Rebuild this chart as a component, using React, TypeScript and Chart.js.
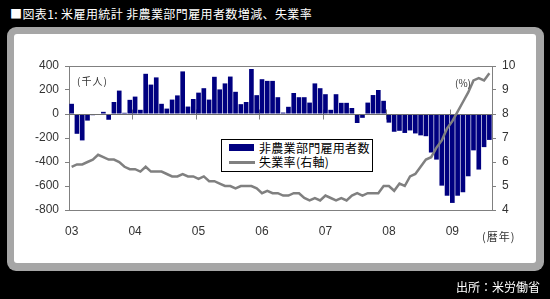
import React, { useEffect, useRef } from 'react';
import { Chart, registerables } from 'chart.js';

Chart.register(...registerables);

// ---- data ----
const years = ['03', '04', '05', '06', '07', '08', '09'];

// Nonfarm payroll change (thousands), monthly
const jobs03 = [85, -165, -220, -55, -10, -5, 18, -48, 100, 195, 10, 118];
const jobs04 = [145, 35, 335, 245, 305, 85, 45, 120, 155, 355, 62, 125];
const jobs05 = [178, 215, 120, 310, 205, 255, 312, 185, 82, 100, 375, 157];
const jobs06 = [290, 276, 276, 140, 12, 60, 175, 140, 140, 95, 255, 215];
const jobs07 = [165, 35, 165, 93, 93, 50, -75, -32, 95, 158, 200, 110];
const jobs08 = [-72, -148, -140, -158, -137, -162, -178, -185, -321, -380, -597, -681];
const jobs09 = [-741, -681, -652, -519, -303, -463, -276, -216];

// Unemployment rate (%), monthly
const unemp03 = [5.8, 5.9, 5.9, 6.0, 6.1, 6.3, 6.2, 6.1, 6.1, 6.0, 5.8, 5.7];
const unemp04 = [5.7, 5.6, 5.8, 5.6, 5.6, 5.6, 5.5, 5.4, 5.4, 5.5, 5.4, 5.4];
const unemp05 = [5.3, 5.4, 5.2, 5.2, 5.1, 5.0, 5.0, 4.9, 5.0, 5.0, 5.0, 4.9];
const unemp06 = [4.7, 4.8, 4.7, 4.7, 4.6, 4.6, 4.7, 4.7, 4.5, 4.4, 4.5, 4.4];
const unemp07 = [4.6, 4.5, 4.4, 4.5, 4.4, 4.6, 4.7, 4.6, 4.7, 4.7, 4.7, 5.0];
const unemp08 = [5.0, 4.8, 5.1, 5.0, 5.4, 5.5, 5.8, 6.1, 6.2, 6.6, 6.9, 7.4];
const unemp09 = [7.7, 8.1, 8.5, 8.9, 9.4, 9.5, 9.4, 9.7];

const jobsByYear = [jobs03, jobs04, jobs05, jobs06, jobs07, jobs08, jobs09];
const unempByYear = [unemp03, unemp04, unemp05, unemp06, unemp07, unemp08, unemp09];

const labels = jobsByYear.flatMap((arr, yi) => arr.map((_, m) => `${years[yi]}/${m + 1}`));
const jobs = jobsByYear.flat();
const unemp = unempByYear.flat();

const leftTicks = { min: -800, max: 400, step: 200 };
const rightTicks = { min: 4, max: 10, step: 1 };

const AXIS_GRAY = '#808080';
const TICK_FONT = { family: 'Arial, "Liberation Sans", sans-serif', size: 12 };

const framePlugin = {
  id: 'framePlugin',
  beforeDatasetsDraw(chart: any) {
    const { ctx, chartArea, scales } = chart;
    const x = scales.x;
    const y = scales.y;
    const zy = Math.round(y.getPixelForValue(0)) + 0.5;
    ctx.save();
    ctx.strokeStyle = AXIS_GRAY;
    ctx.lineWidth = 1;
    ctx.beginPath();
    ctx.moveTo(chartArea.left, Math.round(chartArea.top) + 0.5);
    ctx.lineTo(chartArea.right, Math.round(chartArea.top) + 0.5);
    ctx.stroke();
    for (let i = 12; i < labels.length; i += 12) {
      const px = Math.round((x.getPixelForValue(i - 1) + x.getPixelForValue(i)) / 2) + 0.5;
      ctx.beginPath();
      ctx.moveTo(px, zy - 5);
      ctx.lineTo(px, zy + 5);
      ctx.stroke();
    }
    ctx.restore();
  },
  afterDatasetDraw(chart: any, args: any) {
    if (args.index !== 0) return;
    const { ctx, chartArea, scales } = chart;
    const zy = Math.round(scales.y.getPixelForValue(0)) + 0.5;
    ctx.save();
    ctx.strokeStyle = '#6e6e6e';
    ctx.lineWidth = 1;
    ctx.beginPath();
    ctx.moveTo(chartArea.left, zy);
    ctx.lineTo(chartArea.right, zy);
    ctx.stroke();
    ctx.restore();
  },
};

const ChartCanvas: React.FC = () => {
  const ref = useRef<HTMLCanvasElement | null>(null);
  useEffect(() => {
    if (!ref.current) return;
    const chart = new Chart(ref.current, {
      type: 'bar',
      data: {
        labels,
        datasets: [
          {
            type: 'bar',
            label: '非農業部門雇用者数',
            data: jobs,
            backgroundColor: '#000080',
            borderWidth: 0,
            barPercentage: 0.88,
            categoryPercentage: 1,
            yAxisID: 'y',
            order: 2,
          } as any,
          {
            type: 'line',
            label: '失業率(右軸)',
            data: unemp,
            borderColor: '#808080',
            borderWidth: 2.5,
            pointRadius: 0,
            tension: 0,
            yAxisID: 'y1',
            order: 1,
          } as any,
        ],
      },
      options: {
        responsive: false,
        animation: false,
        devicePixelRatio: 1,
        layout: { padding: { top: 32, left: 0, right: 0, bottom: 0 } },
        plugins: {
          legend: { display: false },
          tooltip: { enabled: false },
          title: { display: false },
        },
        scales: {
          x: {
            grid: { display: false },
            border: { display: true, color: AXIS_GRAY },
            ticks: {
              autoSkip: false,
              maxRotation: 0,
              minRotation: 0,
              padding: 6,
              color: '#333',
              font: TICK_FONT,
              callback: (_v: any, idx: number) => (idx % 12 === 0 ? years[idx / 12] : ''),
            },
            afterFit: (s: any) => {
              s.height = 53;
            },
          },
          y: {
            position: 'left',
            min: leftTicks.min,
            max: leftTicks.max,
            ticks: { stepSize: leftTicks.step, padding: 6, color: '#333', font: TICK_FONT },
            grid: { display: true, drawOnChartArea: false, drawTicks: true, tickLength: 4, color: AXIS_GRAY },
            border: { display: true, color: AXIS_GRAY },
            afterFit: (s: any) => {
              s.width = 55;
            },
          },
          y1: {
            position: 'right',
            min: rightTicks.min,
            max: rightTicks.max,
            ticks: { stepSize: rightTicks.step, padding: 6, color: '#333', font: TICK_FONT },
            grid: { display: true, drawOnChartArea: false, drawTicks: true, tickLength: 4, color: AXIS_GRAY },
            border: { display: true, color: AXIS_GRAY },
            afterFit: (s: any) => {
              s.width = 44;
            },
          },
        },
      } as any,
      plugins: [framePlugin],
    });
    return () => chart.destroy();
  }, []);
  return <canvas ref={ref} width={522} height={229} style={{ display: 'block', width: 522, height: 229 }} />;
};

const JP = '"Noto Sans CJK JP", "Noto Sans", sans-serif';

const App: React.FC = () => {
  useEffect(() => {
    document.body.style.margin = '0';
  }, []);
  const abs = (s: React.CSSProperties): React.CSSProperties => ({ position: 'absolute', whiteSpace: 'nowrap', ...s });
  return (
    <div style={{ position: 'fixed', left: 0, top: 0, width: 550, height: 299, background: '#000', overflow: 'hidden', fontFamily: JP }}>
      <div style={abs({ left: 10, top: 6, color: '#fff', fontSize: 12, lineHeight: '16px', letterSpacing: 0.4 })}>
        ■図表1: 米雇用統計 非農業部門雇用者数増減、失業率
      </div>
      <div style={abs({ left: 7, top: 27, width: 537, height: 244, background: '#a6a6a6', borderRadius: 9 })} />
      <div style={abs({ left: 14, top: 34, width: 522, height: 229, background: '#fff', borderRadius: 3 })}>
        <ChartCanvas />
      </div>
      <div style={abs({ left: 77, top: 74, fontSize: 10, lineHeight: '14px', color: '#333', letterSpacing: 1 })}>(千人)</div>
      <div style={abs({ left: 455, top: 76, fontSize: 10, lineHeight: '14px', color: '#333' })}>(%)</div>
      <div style={abs({ left: 482, top: 228, fontSize: 11, lineHeight: '16px', color: '#333', letterSpacing: 1 })}>(暦年)</div>
      <div style={abs({ left: 221, top: 139, width: 150, height: 31, background: '#fff', border: '1px solid #000' })}>
        <div style={abs({ left: 7, top: 4, width: 25, height: 7, background: '#000080' })} />
        <div style={abs({ left: 37, top: 0, fontSize: 12, lineHeight: '16px', color: '#000', letterSpacing: 0.3 })}>非農業部門雇用者数</div>
        <div style={abs({ left: 7, top: 21, width: 26, height: 2.5, background: '#808080' })} />
        <div style={abs({ left: 37, top: 14, fontSize: 12, lineHeight: '16px', color: '#000', letterSpacing: 0.3 })}>失業率(右軸)</div>
      </div>
      <div style={abs({ right: 10, top: 279, color: '#fff', fontSize: 12, lineHeight: '16px' })}>出所：米労働省</div>
    </div>
  );
};

export default App;
